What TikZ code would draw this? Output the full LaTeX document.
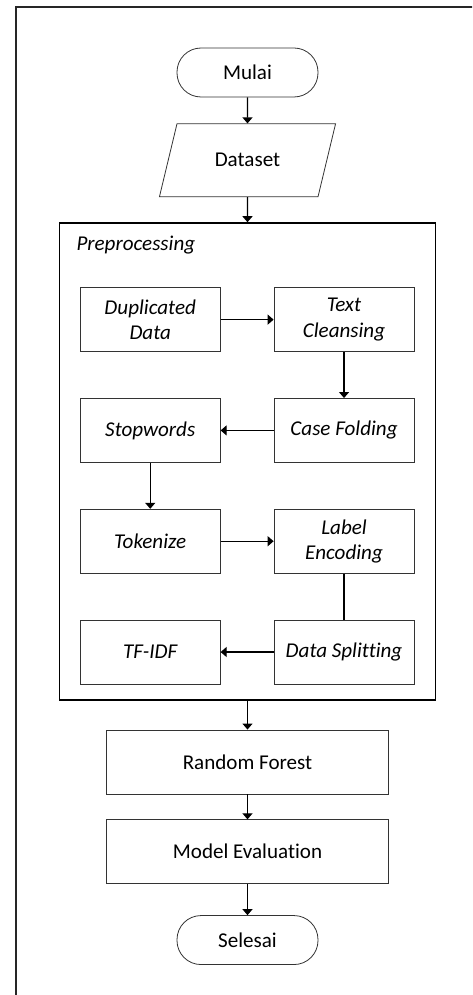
\documentclass[tikz,border=0pt]{standalone}
\usepackage{fontspec}
\setmainfont{Carlito}[Ligatures=NoCommon]
\usetikzlibrary{arrows.meta,positioning,calc,shapes.geometric}
\newcommand{\flowfont}{\fontsize{15.8}{19}\selectfont}
\tikzset{
  box/.style={draw=black!80, line width=0.6pt, align=center, inner sep=2pt, minimum width=105pt, minimum height=48pt, font=\flowfont\itshape},
  bigbox/.style={draw=black!80, line width=0.6pt, align=center, minimum width=211.5pt, minimum height=48pt},
  term/.style={draw=black!80, line width=0.6pt, rounded corners=18pt, minimum width=105.75pt, minimum height=36.75pt},
  io/.style={draw=black!80, line width=0.6pt, trapezium, trapezium left angle=67.7, trapezium right angle=112.3, trapezium stretches=true, minimum width=132.75pt, minimum height=54.75pt},
  frame/.style={draw, line width=1pt, minimum width=282pt, minimum height=357.75pt},
  edge/.style={-{Triangle[length=4.5pt,width=7.5pt]}, line width=0.9pt},
  plainedge/.style={line width=0.9pt}
}

\begin{document}
\begin{tikzpicture}[node distance=34.5pt and 39.75pt, font=\flowfont]
\useasboundingbox (-185.625pt,54.375pt) rectangle (168.375pt,-691.875pt);
\clip (-185.625pt,54.375pt) rectangle (168.375pt,-691.875pt);
% outer page frame
\draw[line width=0.8pt, black!85] (-173.625pt,-800pt) -- (-173.625pt,49.125pt) -- (250pt,49.125pt);

\node[term] (mulai) at (0,0) {Mulai};
\node[io, below=19.5pt of mulai] (dataset) {Dataset};
\node[frame, below=18.75pt of dataset] (prep) {};
\node[anchor=base west, font=\flowfont\itshape] (preplabel) at ($(prep.north west)+(9.75pt,-21pt)$) {Preprocessing};

% preprocessing steps
\node[box, below right=48.75pt and 15.75pt of prep.north west] (dup) {Duplicated\\Data};
\node[box, right=of dup] (clean) {Text\\Cleansing};
\node[box, below=of clean] (fold) {Case Folding};
\node[box, left=of fold] (stop) {Stopwords};
\node[box, below=of stop] (token) {Tokenize};
\node[box, right=of token] (label) {Label\\Encoding};
\node[box, below=of label] (split) {Data Splitting};
\node[box, left=of split] (tfidf) {TF-IDF};

\node[bigbox, below=21.75pt of prep] (rf) {Random Forest};
\node[bigbox, below=18.75pt of rf] (eval) {Model Evaluation};
\node[term, below=23.25pt of eval] (selesai) {Selesai};

\draw[edge] (mulai) -- (dataset);
\draw[edge] (dataset) -- (prep);
\draw[edge] (dup) -- (clean);
\draw[edge] (clean) -- (fold);
\draw[edge] (fold) -- (stop);
\draw[edge] (stop) -- (token);
\draw[edge] (token) -- (label);
\draw[plainedge] (label) -- (split);
\draw[edge] (split) -- (tfidf);
\draw[edge] (prep) -- (rf);
\draw[edge] (rf) -- (eval);
\draw[edge] (eval) -- (selesai);
\end{tikzpicture}
\end{document}
